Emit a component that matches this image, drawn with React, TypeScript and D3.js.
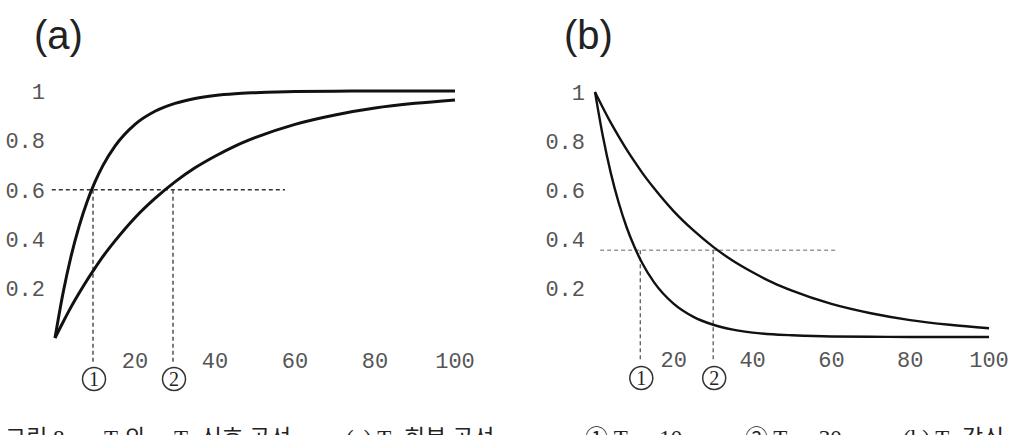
import React from 'react';
import * as d3 from 'd3';

// time samples (ms) shared by all four curves
const times = [0, 2, 4, 6, 8, 10, 12, 15, 20, 25, 30, 35, 40, 45, 50, 60, 70, 80, 90, 100];

// (a) recovery curves
const recoveryFast = [0, 0.181, 0.33, 0.451, 0.551, 0.632, 0.699, 0.777, 0.865, 0.918, 0.95, 0.97, 0.982, 0.989, 0.993, 0.998, 0.999, 1, 1, 1];
const recoverySlow = [0, 0.064, 0.125, 0.181, 0.234, 0.283, 0.33, 0.393, 0.487, 0.565, 0.632, 0.689, 0.736, 0.777, 0.811, 0.865, 0.903, 0.931, 0.95, 0.964];

// (b) decay curves
const decayFast = [1, 0.819, 0.67, 0.549, 0.449, 0.368, 0.301, 0.223, 0.135, 0.082, 0.05, 0.03, 0.018, 0.011, 0.007, 0.002, 0.001, 0, 0, 0];
const decaySlow = [1, 0.936, 0.875, 0.819, 0.766, 0.717, 0.67, 0.607, 0.513, 0.435, 0.368, 0.311, 0.264, 0.223, 0.189, 0.135, 0.097, 0.069, 0.05, 0.036];

const xTicks = [20, 40, 60, 80, 100];
const yTicks = [0.2, 0.4, 0.6, 0.8, 1];
const yTickText = ['0.2', '0.4', '0.6', '0.8', '1'];

// guide levels and the times marked ① ②
const recoveryLevel = 0.6;
const recoveryMarks = [9.5, 29.5];
const recoveryGuideSpan = [-0.8, 57.5];
const decayLevel = 0.354;
const decayMarks = [11.5, 30];
const decayGuideSpan = [1.3, 61];
const markLabels = ['1', '2'];

const tickFont = '"Liberation Mono", "DejaVu Sans Mono", monospace';

type Pt = { t: number; v: number };

interface PanelProps {
  label: string;
  x0: number;
  x1: number;
  yTop: number;
  yBottom: number;
  labelX: number;
  series: number[][];
  strokeWidth: number;
  level: number;
  marks: number[];
  guideSpan: number[];
  hColor: string;
  vColor: string;
}

const Panel: React.FC<PanelProps> = ({
  label, x0, x1, yTop, yBottom, labelX, series, strokeWidth,
  level, marks, guideSpan, hColor, vColor,
}) => {
  const x = d3.scaleLinear().domain([0, 100]).range([x0, x1]);
  const y = d3.scaleLinear().domain([0, 1]).range([yBottom, yTop]);
  const line = d3.line<Pt>()
    .x(d => x(d.t))
    .y(d => y(d.v))
    .curve(d3.curveMonotoneX);

  const guideY = y(level);
  const vEnd = y(0) + 24;

  return (
    <g>
      <text x={labelX} y={49} fontFamily='"Liberation Sans", Arial, sans-serif' fontSize={40} fill="#222">
        {label}
      </text>

      {yTicks.map((v, i) => (
        <text key={v} x={x0 - 10} y={y(v)} dy="0.35em" textAnchor="end"
          fontFamily={tickFont} fontSize={22} fill="#555">
          {yTickText[i]}
        </text>
      ))}
      {xTicks.map(t => (
        <text key={t} x={x(t)} y={y(0) + 22} dy="0.35em" textAnchor="middle"
          fontFamily={tickFont} fontSize={22} fill="#555">
          {t}
        </text>
      ))}

      <line x1={x(guideSpan[0])} x2={x(guideSpan[1])} y1={guideY} y2={guideY}
        stroke={hColor} strokeWidth={1.4} strokeDasharray="4,3" />
      {marks.map((t, i) => (
        <g key={t}>
          <line x1={x(t)} x2={x(t)} y1={guideY} y2={vEnd}
            stroke={vColor} strokeWidth={1.4} strokeDasharray="4,3" />
          <circle cx={x(t) + 1} cy={vEnd + 17} r={11.5} fill="#fff" stroke="#333" strokeWidth={1.5} />
          <text x={x(t) + 1} y={vEnd + 17} dy="0.36em" textAnchor="middle"
            fontFamily='"Liberation Serif", serif' fontSize={20} fill="#222">
            {markLabels[i]}
          </text>
        </g>
      ))}

      {series.map((vals, k) => (
        <path key={k}
          d={line(times.map((t, i) => ({ t, v: vals[i] }))) || ''}
          fill="none" stroke="#111" strokeWidth={strokeWidth} strokeLinejoin="round" />
      ))}
    </g>
  );
};

const Sub: React.FC<{ n: string }> = ({ n }) => (
  <tspan fontSize={14} dy={5}>{n}</tspan>
);

export default function App() {
  return (
    <svg width={1026} height={435} viewBox="0 0 1026 435"
      style={{ position: 'absolute', left: 0, top: 0, background: '#fff' }}>
      <rect width={1026} height={435} fill="#fff" />
      <Panel label="(a)" x0={55} x1={455} yTop={91} yBottom={338} labelX={34}
        series={[recoveryFast, recoverySlow]} strokeWidth={3}
        level={recoveryLevel} marks={recoveryMarks} guideSpan={recoveryGuideSpan}
        hColor="#333" vColor="#444" />
      <Panel label="(b)" x0={595} x1={989} yTop={92} yBottom={337} labelX={564}
        series={[decayFast, decaySlow]} strokeWidth={2.4}
        level={decayLevel} marks={decayMarks} guideSpan={decayGuideSpan}
        hColor="#999" vColor="#666" />

      {/* figure caption, runs past the bottom edge */}
      <text y={446} fontFamily='"Liberation Serif", "Noto Sans CJK KR", serif' fontSize={23} fill="#222">
        <tspan x={5}>그림 8.</tspan>
        <tspan x={104}>T</tspan><Sub n="1" /><tspan dy={-5}>와</tspan>
        <tspan x={174}>T</tspan><Sub n="2" /><tspan dy={-5}> 신호 곡선</tspan>
        <tspan x={346}>(a) T</tspan><Sub n="1" /><tspan dy={-5}> 회복 곡선</tspan>
        <tspan x={585}>① T</tspan><Sub n="1" /><tspan dy={-5}> = 10</tspan>
        <tspan x={745}>② T</tspan><Sub n="1" /><tspan dy={-5}> = 30</tspan>
        <tspan x={903}>(b) T</tspan><Sub n="2" /><tspan dy={-5}> 감쇠</tspan>
      </text>
    </svg>
  );
}
